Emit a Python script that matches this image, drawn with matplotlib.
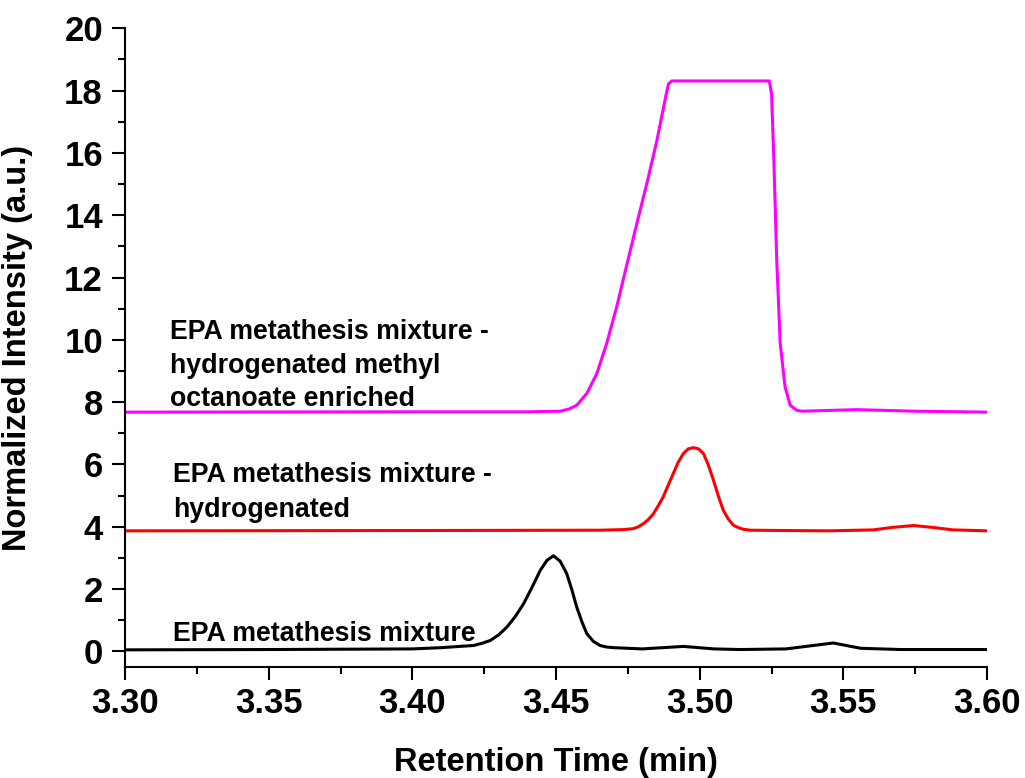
import matplotlib
matplotlib.use("Agg")
import matplotlib.pyplot as plt
from matplotlib.ticker import MultipleLocator

plt.rcParams['font.family'] = ['Liberation Sans', 'DejaVu Sans']
plt.rcParams['font.weight'] = 'bold'

# values (time in min, normalized intensity)
t_black = [3.300, 3.350, 3.400, 3.410, 3.4213, 3.4242, 3.4271, 3.4300, 3.4329, 3.4358,
           3.4387, 3.4416, 3.4445, 3.4468, 3.4491, 3.4514, 3.4537, 3.4555, 3.4572, 3.4590,
           3.4607, 3.4630, 3.4653, 3.4676, 3.470, 3.480, 3.4943, 3.505, 3.514, 3.530,
           3.5465, 3.556, 3.570, 3.600]
v_black = [0.05, 0.06, 0.08, 0.12, 0.19, 0.26, 0.35, 0.53, 0.78, 1.12,
           1.53, 2.05, 2.60, 2.92, 3.07, 2.90, 2.50, 1.98, 1.42, 0.95,
           0.57, 0.32, 0.19, 0.14, 0.12, 0.08, 0.16, 0.08, 0.06, 0.08,
           0.27, 0.10, 0.06, 0.06]

t_red = [3.300, 3.400, 3.4653, 3.4735, 3.4769, 3.4786, 3.4804, 3.4822, 3.4839, 3.4856,
         3.4873, 3.4890, 3.4908, 3.4925, 3.4943, 3.4960, 3.4978, 3.4996, 3.5013, 3.5030,
         3.5048, 3.5065, 3.5082, 3.5100, 3.5117, 3.5135, 3.5152, 3.5175, 3.530, 3.545,
         3.5604, 3.567, 3.5744, 3.581, 3.5882, 3.600]
v_red = [3.87, 3.88, 3.89, 3.91, 3.94, 4.00, 4.10, 4.24, 4.42, 4.68,
         4.96, 5.33, 5.71, 6.07, 6.35, 6.50, 6.54, 6.50, 6.35, 5.98,
         5.49, 4.98, 4.53, 4.24, 4.05, 3.97, 3.92, 3.89, 3.88, 3.87,
         3.90, 3.98, 4.04, 3.98, 3.90, 3.87]

t_mag = [3.300, 3.400, 3.440, 3.4514, 3.4545, 3.4572, 3.4607, 3.4642, 3.4676, 3.4711,
         3.4746, 3.4781, 3.4816, 3.4850, 3.4879, 3.4891, 3.4902, 3.5242, 3.5250, 3.5258,
         3.5268, 3.5280, 3.5297, 3.5315, 3.5338, 3.5355, 3.5546, 3.575, 3.600]
v_mag = [7.68, 7.69, 7.69, 7.71, 7.78, 7.90, 8.28, 8.92, 9.88, 11.06,
         12.40, 13.73, 15.02, 16.36, 17.69, 18.21, 18.31, 18.31, 17.90, 15.77,
         12.56, 9.89, 8.49, 7.90, 7.74, 7.71, 7.76, 7.71, 7.68]

labels_black = ["EPA metathesis mixture"]
labels_red = ["EPA metathesis mixture -", "hydrogenated"]
labels_mag = ["EPA metathesis mixture -", "hydrogenated methyl", "octanoate enriched"]

fig = plt.figure(figsize=(10.25, 7.78), dpi=100)
ax = fig.add_axes([0.122, 0.1427, 0.841, 0.8209])

ax.plot(t_black, v_black, color='black', lw=2.2)
ax.plot(t_red, v_red, color='#ff0000', lw=2.2)
ax.plot(t_mag, v_mag, color='#ff00ff', lw=2.2)

fs = 19.3
for s, y in zip(labels_mag, [10.02, 8.94, 7.87]):
    ax.text(3.3157, y, s, fontsize=fs, fontweight='bold', va='baseline')
for s, y in zip(labels_red, [5.43, 4.32]):
    ax.text(3.3167, y, s, fontsize=fs, fontweight='bold', va='baseline')
ax.text(3.3168, 0.32, labels_black[0], fontsize=fs, fontweight='bold', va='baseline')

ax.set_xlim(3.30, 3.60)
ax.set_ylim(-0.5, 20)
ax.xaxis.set_major_locator(MultipleLocator(0.05))
ax.xaxis.set_minor_locator(MultipleLocator(0.025))
ax.yaxis.set_major_locator(MultipleLocator(2))
ax.yaxis.set_minor_locator(MultipleLocator(1))
ax.xaxis.set_major_formatter(plt.FormatStrFormatter('%.2f'))

for side in ['top', 'right']:
    ax.spines[side].set_visible(False)
for side in ['left', 'bottom']:
    ax.spines[side].set_linewidth(1.5)

ax.tick_params(which='major', direction='out', length=9.4, width=1.5, labelsize=25, pad=5)
ax.tick_params(which='minor', direction='out', length=5, width=1.5)
ax.tick_params(axis='y', which='major', pad=6.5)
for lab in ax.get_xticklabels() + ax.get_yticklabels():
    lab.set_fontweight('bold')

ax.set_xlabel('Retention Time (min)', fontsize=23.5, fontweight='bold')
ax.set_ylabel('Normalized Intensity (a.u.)', fontsize=23.5, fontweight='bold')
ax.xaxis.set_label_coords(0.5, -0.125)
ax.yaxis.set_label_coords(-0.1067, 0.5)

fig.savefig('out.png', dpi=100)
